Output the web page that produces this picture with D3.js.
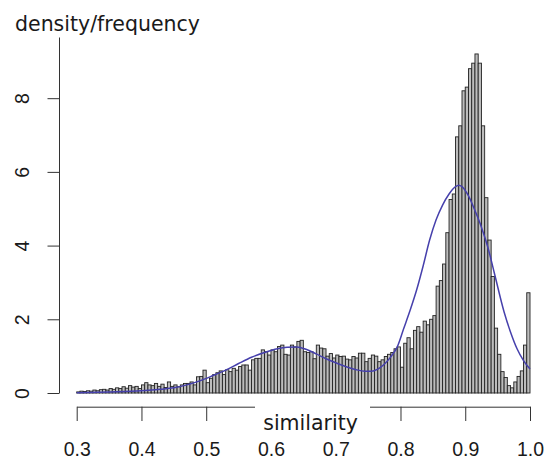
<!DOCTYPE html>
<html lang="en">
<head>
<meta charset="utf-8">
<script src="https://cdn.jsdelivr.net/npm/d3@7/dist/d3.min.js"></script>
<style>
  body { margin: 0; background: #fff; }
  svg { display: block; font-family: "DejaVu Sans", Verdana, sans-serif; }
  .axis path, .axis line { stroke: #333; stroke-width: 1; fill: none; }
  .axis text { fill: #1a1a1a; }
</style>
</head>
<body>
<svg id="chart" width="548" height="459"></svg>
<script>
// histogram: bins of width 0.005 from 0.30 to 1.00 (density units)
var binStart = 0.3, binWidth = 0.005;
var heights = [
  0.03, 0.05, 0.04, 0.06, 0.05, 0.08, 0.06, 0.09, 0.10, 0.08,
  0.12, 0.10, 0.14, 0.12, 0.17, 0.13, 0.20, 0.16, 0.18, 0.12,
  0.22, 0.28, 0.22, 0.20, 0.26, 0.18, 0.24, 0.15, 0.30, 0.18,
  0.22,
  0.17, 0.22, 0.26, 0.26, 0.30, 0.22, 0.44, 0.45, 0.62, 0.28,
  0.40, 0.50, 0.55, 0.60, 0.50, 0.63, 0.58, 0.67, 0.62, 0.72,
  0.76, 0.76, 0.62, 0.90, 0.94, 0.94, 1.17, 1.12, 1.03, 1.17,
  1.12, 1.26,
  1.30, 1.05, 1.03, 1.30, 1.25, 1.40, 1.43, 1.12, 1.10, 1.12,
  0.93, 1.30, 1.22, 1.20, 1.00, 1.07, 0.95, 1.03, 0.99, 1.00,
  0.92, 0.90, 0.99, 0.95, 1.08, 1.08, 0.85, 0.94, 1.03, 1.00,
  0.85, 0.90, 0.99, 1.05,
  1.10, 1.20, 1.25, 0.70, 1.35, 1.50, 1.20, 1.70, 1.80, 1.65,
  1.95, 1.85, 2.00, 2.10, 2.90, 3.05, 3.50, 4.35, 5.25, 5.40,
  6.95, 7.25, 8.20, 8.30, 8.80, 8.95, 9.20, 8.95, 7.25, 5.30,
  4.15, 3.16, 1.76, 1.05, 0.58, 0.42, 0.20, 0.14, 0.30, 0.45,
  0.60, 1.30, 2.72
];

// density curve
var densX = [0.30, 0.35, 0.40, 0.43, 0.45, 0.47, 0.49, 0.51, 0.53, 0.55,
             0.57, 0.59, 0.61, 0.625, 0.64, 0.655, 0.67, 0.685, 0.70, 0.715,
             0.73, 0.745, 0.755, 0.765, 0.775, 0.785, 0.795, 0.805, 0.815, 0.825,
             0.835, 0.845, 0.855, 0.865, 0.875, 0.885, 0.89, 0.895, 0.905, 0.915,
             0.925, 0.935, 0.945, 0.96, 0.97, 0.98, 0.99, 1.00];
var densY = [0.01, 0.03, 0.06, 0.10, 0.14, 0.22, 0.33, 0.47, 0.62, 0.80,
             0.97, 1.10, 1.20, 1.24, 1.25, 1.18, 1.06, 0.93, 0.82, 0.72,
             0.64, 0.59, 0.59, 0.65, 0.78, 0.98, 1.25, 1.75, 2.25, 2.80,
             3.45, 4.15, 4.70, 5.10, 5.40, 5.60, 5.64, 5.60, 5.35, 4.95,
             4.50, 3.95, 3.25, 2.20, 1.65, 1.20, 0.88, 0.65];

var xTicks = [0.3, 0.4, 0.5, 0.6, 0.7, 0.8, 0.9, 1.0];
var yTicks = [0, 2, 4, 6, 8];

var svg = d3.select("#chart");

var x = d3.scaleLinear().domain([0.3, 1.0]).range([76.7, 530]);
var y = d3.scaleLinear().domain([0, 9.66]).range([393, 37]);

// bars
svg.append("g")
  .selectAll("rect")
  .data(heights)
  .enter().append("rect")
    .attr("x", function(d, i) { return x(binStart + i * binWidth); })
    .attr("width", function(d, i) { return x(binStart + (i + 1) * binWidth) - x(binStart + i * binWidth); })
    .attr("y", function(d) { return y(d); })
    .attr("height", function(d) { return y(0) - y(d); })
    .style("fill", "#bdbdbd")
    .style("stroke", "#222")
    .style("stroke-width", 0.9);

// density line
var line = d3.line()
  .curve(d3.curveMonotoneX)
  .x(function(d, i) { return x(densX[i]); })
  .y(function(d) { return y(d); });

svg.append("path")
  .attr("d", line(densY))
  .style("fill", "none")
  .style("stroke", "#4640ac")
  .style("stroke-width", 1.5);

// y axis
var yAxis = svg.append("g")
  .attr("class", "axis")
  .attr("transform", "translate(59,0)")
  .call(d3.axisLeft(y).tickValues(yTicks).tickSize(11.5).tickSizeOuter(0).tickFormat(d3.format("d")));
yAxis.selectAll("text")
  .attr("x", null).attr("dy", null)
  .attr("transform", "translate(-30.5,0) rotate(-90)")
  .style("text-anchor", "middle")
  .style("font-size", "19.5px");

// x axis
var xAxis = svg.append("g")
  .attr("class", "axis")
  .attr("transform", "translate(0,406.7)")
  .call(d3.axisBottom(x).tickValues(xTicks).tickSize(14.3).tickSizeOuter(0).tickFormat(d3.format(".1f")));
xAxis.selectAll("text")
  .attr("y", 49.8).attr("dy", null)
  .style("font-size", "19.5px");

// blank space behind axis title
svg.append("rect")
  .attr("x", 255).attr("y", 398)
  .attr("width", 115).attr("height", 38)
  .style("fill", "#fff");

svg.append("text")
  .attr("x", 310.5).attr("y", 430)
  .style("text-anchor", "middle")
  .style("font-size", "20.5px")
  .style("fill", "#1a1a1a")
  .text("similarity");

svg.append("text")
  .attr("x", 15).attr("y", 30.7)
  .style("font-size", "20.5px")
  .style("fill", "#1a1a1a")
  .text("density/frequency");
</script>
</body>
</html>
